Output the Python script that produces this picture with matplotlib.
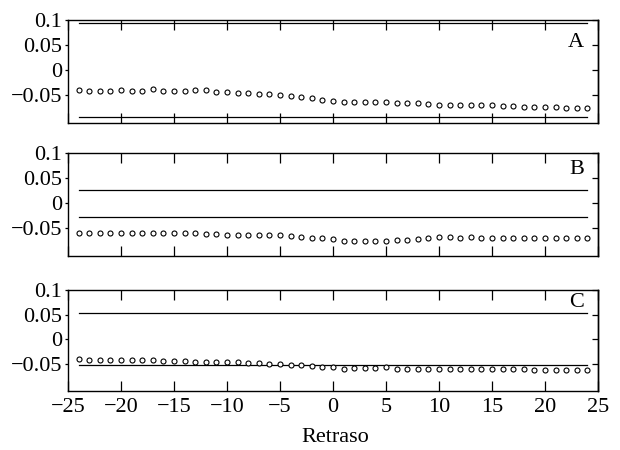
import matplotlib
matplotlib.use("Agg")
import matplotlib.pyplot as plt
import numpy as np

plt.rcParams["font.family"] = ["Liberation Serif", "DejaVu Serif"]
plt.rcParams["font.size"] = 16

# lags
lags = np.arange(-24, 25)

# correlations for each panel (lags -24 .. 24)
corr_a = [-0.040, -0.042, -0.041, -0.041, -0.040, -0.0405, -0.0405, -0.038, -0.0405, -0.0405,
          -0.0405, -0.040, -0.040, -0.044, -0.044, -0.045, -0.046, -0.047, -0.048, -0.050,
          -0.051, -0.053, -0.055, -0.060, -0.061,
          -0.063, -0.063, -0.063, -0.063, -0.064, -0.065, -0.066, -0.066, -0.067, -0.069,
          -0.069, -0.069, -0.069, -0.070, -0.070, -0.071, -0.071, -0.073, -0.073, -0.073,
          -0.074, -0.075, -0.075, -0.075]
corr_b = [-0.060, -0.060, -0.060, -0.059, -0.060, -0.060, -0.060, -0.060, -0.060, -0.059,
          -0.060, -0.060, -0.061, -0.062, -0.0625, -0.063, -0.063, -0.064, -0.064, -0.064,
          -0.066, -0.067, -0.069, -0.070, -0.072,
          -0.076, -0.0755, -0.0755, -0.0755, -0.0755, -0.074, -0.073, -0.0706, -0.0686, -0.067,
          -0.067, -0.0686, -0.067, -0.0686, -0.0686, -0.0686, -0.070, -0.0686, -0.070, -0.070,
          -0.0686, -0.070, -0.070, -0.0686]
corr_c = [-0.040, -0.043, -0.043, -0.043, -0.043, -0.043, -0.043, -0.043, -0.0445, -0.0445,
          -0.0445, -0.046, -0.046, -0.046, -0.047, -0.047, -0.049, -0.049, -0.050, -0.050,
          -0.0515, -0.053, -0.054, -0.056, -0.057,
          -0.060, -0.0588, -0.0574, -0.0574, -0.056, -0.060, -0.060, -0.060, -0.060, -0.060,
          -0.060, -0.060, -0.060, -0.060, -0.060, -0.060, -0.060, -0.060, -0.0614, -0.0614,
          -0.0614, -0.0614, -0.0614, -0.063]

# confidence bounds (upper, lower)
bounds = {"A": (0.094, -0.093), "B": (0.027, -0.027), "C": (0.053, -0.053)}
panel_names = ["A", "B", "C"]
x_ticks = [-25, -20, -15, -10, -5, 0, 5, 10, 15, 20, 25]
y_ticks = [-0.05, 0, 0.05, 0.1]
y_tick_labels = ["\u22120.05", "0", "0.05", "0.1"]

fig = plt.figure(figsize=(6.2, 4.5), dpi=100)

# axes boxes in figure fraction: (bottom, top)
rows = [(0.7267, 0.9556), (0.4311, 0.6593), (0.1311, 0.3556)]
label_y = [0.056, 0.068, 0.075]
left, right = 0.1097, 0.9645

for i, (corr, name) in enumerate(zip([corr_a, corr_b, corr_c], panel_names)):
    bottom, top = rows[i]
    ax = fig.add_axes([left, bottom, right - left, top - bottom])
    up, lo = bounds[name]
    ax.plot([lags[0], lags[-1]], [up, up], color="black", lw=0.9)
    ax.plot([lags[0], lags[-1]], [lo, lo], color="black", lw=0.9)
    ax.plot(lags, corr, "o", mfc="white", mec="black", ms=3.6, mew=0.8)
    ax.set_xlim(-25, 25)
    ax.set_ylim(-0.105, 0.1)
    ax.set_xticks(x_ticks)
    ax.set_yticks(y_ticks)
    ax.set_yticklabels(y_tick_labels)
    ax.tick_params(axis="x", direction="in", top=True, bottom=True, length=7, width=0.9, pad=5)
    ax.tick_params(axis="y", direction="out", left=True, right=False, length=2.5, width=0.9, pad=1.5)
    # right side ticks point inward
    sec = ax.secondary_yaxis("right")
    sec.set_yticks(y_ticks)
    sec.tick_params(direction="in", length=4.3, width=0.9, labelright=False)
    sec.spines["right"].set_linewidth(1.0)
    for s in ax.spines.values():
        s.set_linewidth(1.0)
    if i < 2:
        ax.set_xticklabels([])
    else:
        ax.set_xticklabels([str(t).replace("-", "\u2212") for t in x_ticks])
    ax.text(23.7, label_y[i], name, ha="right", va="center")

fig.text(335 / 620, 1 - 437 / 450, "Retraso", ha="center", va="center")

plt.savefig("out.png", dpi=100)
